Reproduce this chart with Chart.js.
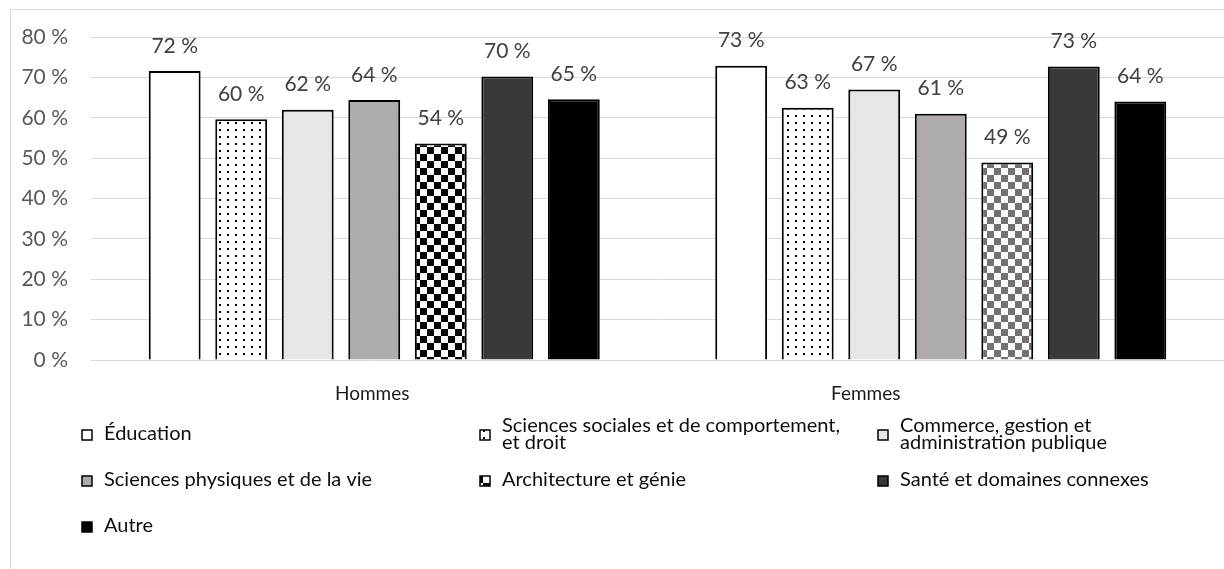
<!DOCTYPE html>
<html>
<head>
<meta charset="utf-8">
<script src="https://cdn.jsdelivr.net/npm/chart.js@4"></script>
<style>
  html, body { margin: 0; padding: 0; background: #fff; }
  #wrap { position: relative; width: 1224px; height: 569px; overflow: hidden; }
  #frame { position: absolute; left: 10px; top: 9px; width: 1300px; height: 700px; border: 1px solid #d9d9d9; }
  #chart { position: absolute; left: 0; top: 0; }
</style>
</head>
<body>
<div id="wrap">
  <div id="frame"></div>
  <canvas id="chart" width="1224" height="569"></canvas>
</div>
<script>
// DATA
const categories = ["Hommes", "Femmes"];
const fields = [
  "Éducation",
  "Sciences sociales et de comportement,\net droit",
  "Commerce, gestion et\nadministration publique",
  "Sciences physiques et de la vie",
  "Architecture et génie",
  "Santé et domaines connexes",
  "Autre",
];
const hommes = [71.6, 59.6, 62.0, 64.4, 53.6, 70.2, 64.6];
const femmes = [72.9, 62.5, 67.0, 61.0, 48.9, 72.7, 64.0];
const yTicks = [0, 10, 20, 30, 40, 50, 60, 70, 80];

const FONT = "Lato";

// PATTERNS
function makeTile(w, h, draw) {
  const c = document.createElement("canvas");
  c.width = w;
  c.height = h;
  draw(c.getContext("2d"));
  return document.getElementById("chart").getContext("2d").createPattern(c, "repeat");
}
const dots = makeTile(8, 7, (g) => {
  g.fillStyle = "#fff";
  g.fillRect(0, 0, 8, 7);
  g.fillStyle = "#000";
  g.fillRect(3, 3, 2, 2);
});
function checker(dark) {
  return makeTile(14, 14, (g) => {
    g.fillStyle = "#fff";
    g.fillRect(0, 0, 14, 14);
    g.fillStyle = dark;
    g.fillRect(0, 0, 7, 7);
    g.fillRect(7, 7, 7, 7);
  });
}
const fills = [
  "#ffffff",
  dots,
  "#e7e6e6",
  "#afabab",
  [checker("#000000"), checker("#767171")],
  "#3b3838",
  "#000000",
];

const datasets = fields.map((f, i) => ({
  label: f,
  data: [hommes[i], femmes[i]],
  backgroundColor: fills[i],
  borderColor: "#000",
  borderWidth: 2,
  barPercentage: 0.78,
  categoryPercentage: 0.822,
}));

// value labels above bars
const valueLabels = {
  id: "valueLabels",
  afterDatasetsDraw(chart) {
    const ctx = chart.ctx;
    ctx.save();
    ctx.font = "21px " + FONT;
    ctx.fillStyle = "#404040";
    ctx.textAlign = "center";
    ctx.textBaseline = "middle";
    chart.data.datasets.forEach((ds, i) => {
      chart.getDatasetMeta(i).data.forEach((el, j) => {
        ctx.fillText(Math.round(ds.data[j]) + " %", el.x, el.y - 25);
      });
    });
    ctx.restore();
  },
};

// category names under the axis (Femmes sits left of its group in the source)
const catLabels = {
  id: "catLabels",
  afterDraw(chart) {
    const ctx = chart.ctx;
    const x = chart.scales.x;
    const shift = [-2, -75];
    ctx.save();
    ctx.font = "19px " + FONT;
    ctx.fillStyle = "#1a1a1a";
    ctx.textAlign = "center";
    ctx.textBaseline = "middle";
    categories.forEach((c, i) => {
      ctx.fillText(c, x.getPixelForValue(i) + shift[i], chart.chartArea.bottom + 34);
    });
    ctx.restore();
  },
};

// three-column legend with wrapped labels
const gridLegend = {
  id: "gridLegend",
  afterDraw(chart) {
    const ctx = chart.ctx;
    const colX = [82, 480, 878];
    const rowY = [434, 480, 526];
    const lineH = 16.5;
    ctx.save();
    ctx.font = "20px " + FONT;
    ctx.textBaseline = "middle";
    chart.data.datasets.forEach((ds, i) => {
      const x = colX[i % 3];
      const y = rowY[Math.floor(i / 3)];
      const lines = ds.label.split("\n");
      const bg = Array.isArray(ds.backgroundColor) ? ds.backgroundColor[0] : ds.backgroundColor;
      ctx.fillStyle = bg;
      ctx.fillRect(x, y - 4, 10, 10);
      ctx.strokeStyle = "#000";
      ctx.lineWidth = 1.5;
      ctx.strokeRect(x, y - 4, 10, 10);
      ctx.fillStyle = "#0d0d0d";
      const top = y - ((lines.length - 1) * lineH) / 2;
      lines.forEach((l, k) => ctx.fillText(l, x + 22, top + k * lineH));
    });
    ctx.restore();
  },
};

new Chart(document.getElementById("chart"), {
  type: "bar",
  data: { labels: categories, datasets: datasets },
  options: {
    responsive: false,
    animation: false,
    layout: { padding: { top: 37, right: 0, bottom: 201, left: 0 } },
    plugins: { legend: { display: false }, tooltip: { enabled: false } },
    scales: {
      x: {
        grid: { display: false },
        ticks: { display: false },
        border: { color: "#d9d9d9" },
      },
      y: {
        min: 0,
        max: 80,
        afterBuildTicks: (s) => { s.ticks = yTicks.map((v) => ({ value: v })); },
        afterFit: (s) => { s.width = 91; },
        ticks: {
          callback: (v) => v + " %",
          color: "#595959",
          font: { family: FONT, size: 21 },
          padding: 23,
        },
        grid: { color: "#d9d9d9", drawTicks: false },
        border: { display: false },
      },
    },
  },
  plugins: [valueLabels, catLabels, gridLegend],
});
</script>
</body>
</html>
